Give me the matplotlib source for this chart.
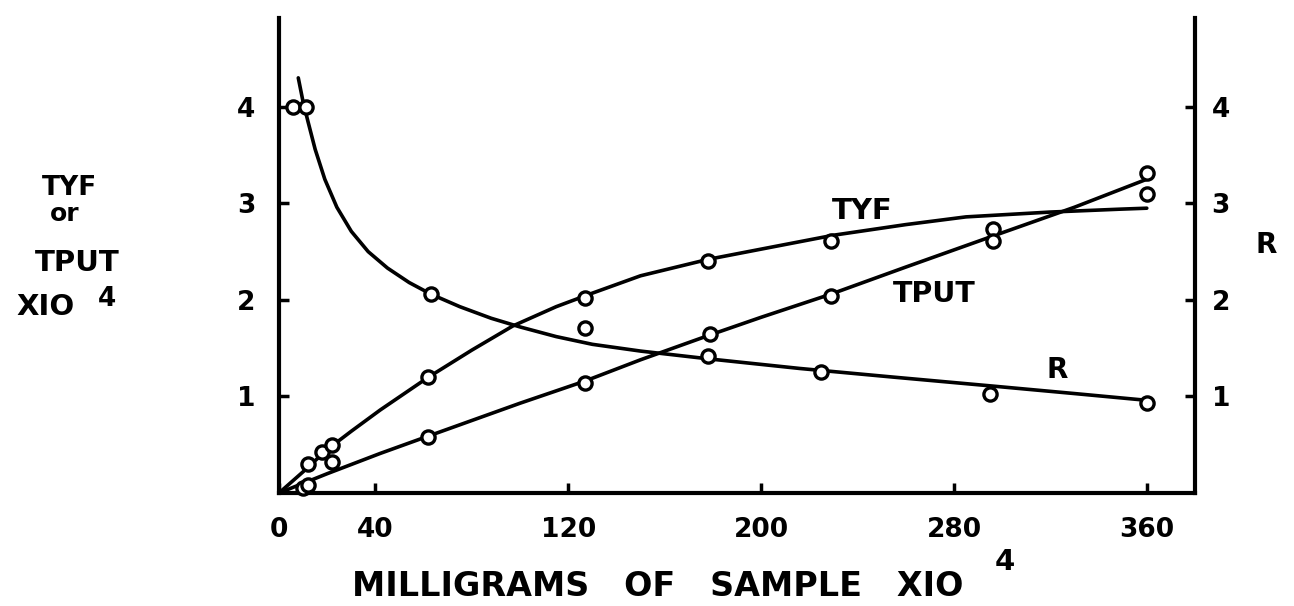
"""TYF, TPUT and R against sample mass: recreation of a hand-lettered chart."""

import matplotlib

matplotlib.use("Agg")
import matplotlib.pyplot as plt

# measured points (x = milligrams of sample x10^4)
tyf_x = [12, 18, 22, 62, 127, 178, 229, 296, 360]
tyf_y = [0.30, 0.42, 0.50, 1.20, 2.02, 2.40, 2.61, 2.73, 3.10]
tput_x = [10, 12, 22, 62, 127, 179, 229, 296, 360]
tput_y = [0.05, 0.08, 0.32, 0.58, 1.14, 1.65, 2.04, 2.61, 3.31]
r_x = [6, 11, 63, 127, 178, 225, 295, 360]
r_y = [4.00, 4.00, 2.06, 1.71, 1.42, 1.25, 1.03, 0.93]

# hand-drawn fitted curves
tyf_curve_x = [0, 10, 20, 30, 42, 62, 80, 97, 115, 130, 150, 178, 205, 230, 260, 285, 320, 349, 360]
tyf_curve_y = [0.0, 0.22, 0.45, 0.64, 0.86, 1.20, 1.48, 1.73, 1.93, 2.07, 2.25, 2.42, 2.55,
               2.67, 2.78, 2.86, 2.91, 2.94, 2.95]
tput_curve_x = [0, 20, 42, 62, 100, 127, 150, 178, 200, 229, 260, 296, 330, 360]
tput_curve_y = [0.0, 0.20, 0.41, 0.59, 0.93, 1.16, 1.38, 1.63, 1.82, 2.06, 2.34, 2.66, 2.96, 3.25]
r_curve_x = [8, 10, 12, 15, 19, 24, 30, 37, 45, 54, 63, 75, 88, 100, 115, 130, 150, 178, 216,
             255, 295, 330, 360]
r_curve_y = [4.30, 4.05, 3.85, 3.56, 3.25, 2.96, 2.71, 2.50, 2.33, 2.18, 2.06, 1.93, 1.81, 1.72,
             1.62, 1.54, 1.47, 1.39, 1.29, 1.20, 1.11, 1.03, 0.96]

x_ticks = [0, 40, 120, 200, 280, 360]
y_ticks = [1, 2, 3, 4]

W, H = 1294, 606
plt.rcParams["font.family"] = ["DejaVu Sans"]
plt.rcParams["font.weight"] = "bold"


def fx(px):
    return px / W


def fy(py):
    return 1 - py / H


fig = plt.figure(figsize=(W / 100, H / 100), dpi=100)
ax = fig.add_axes([fx(279), fy(493), fx(1195) - fx(279), fy(18) - fy(493)])

line_kw = dict(color="black", linewidth=2.6, solid_capstyle="round")
ax.plot(tyf_curve_x, tyf_curve_y, **line_kw)
ax.plot(tput_curve_x, tput_curve_y, **line_kw)
ax.plot(r_curve_x, r_curve_y, **line_kw)

mark_kw = dict(linestyle="none", marker="o", markersize=9.5, markerfacecolor="white",
               markeredgecolor="black", markeredgewidth=2.4, clip_on=False, zorder=3)
ax.plot(tyf_x, tyf_y, **mark_kw)
ax.plot(tput_x, tput_y, **mark_kw)
ax.plot(r_x, r_y, **mark_kw)

ax.set_xlim(0, 380)
ax.set_ylim(0, 4.92)
ax.spines["top"].set_visible(False)
for side in ("left", "bottom", "right"):
    ax.spines[side].set_linewidth(3)

ax.set_xticks(x_ticks)
ax.set_yticks(y_ticks)
ax.tick_params(axis="x", direction="in", length=7, width=2.5, pad=17, labelsize=19)
ax.tick_params(axis="y", direction="in", length=7, width=2.5, pad=17, labelsize=19)

# right-hand R scale shares the same numbers
axr = ax.twinx()
axr.set_ylim(ax.get_ylim())
axr.set_yticks(y_ticks)
axr.tick_params(axis="y", direction="in", length=7, width=2.5, pad=12, labelsize=19)
for side in ("left", "bottom", "top", "right"):
    axr.spines[side].set_visible(False)

txt = dict(fontweight="bold", color="black")

# curve labels
ax.text(242, 2.92, "TYF", fontsize=21, ha="center", va="center", **txt)
ax.text(272, 2.06, "TPUT", fontsize=20.5, ha="center", va="center", **txt)
ax.text(323, 1.27, "R", fontsize=20, ha="center", va="center", **txt)

# left axis title
fig.text(fx(70), fy(195), "TYF", fontsize=19, ha="center", va="baseline", **txt)
fig.text(fx(65), fy(221), "or", fontsize=18, ha="center", va="baseline", **txt)
fig.text(fx(77), fy(271), "TPUT", fontsize=21, ha="center", va="baseline", **txt)
fig.text(fx(16), fy(315), "XIO", fontsize=21, ha="left", va="baseline", **txt)
fig.text(fx(107), fy(306), "4", fontsize=19, ha="center", va="baseline", **txt)

# right axis title
fig.text(fx(1266), fy(245), "R", fontsize=20, ha="center", va="center", **txt)

# x axis title
fig.text(fx(352), fy(596), "MILLIGRAMS   OF   SAMPLE   XIO", fontsize=24, ha="left",
         va="baseline", **txt)
fig.text(fx(1005), fy(570), "4", fontsize=21, ha="center", va="baseline", **txt)

fig.savefig("out.png", dpi=100, facecolor="white")
